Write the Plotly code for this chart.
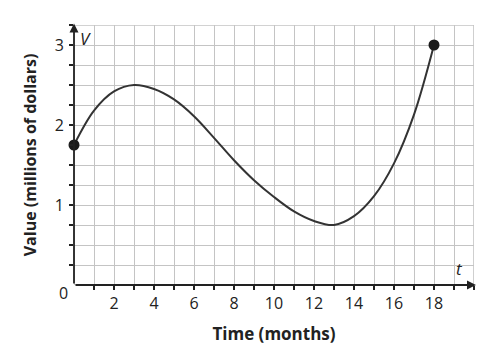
import plotly.graph_objects as go

# Data
t_vals = [0, 1, 2, 3, 4, 5, 6, 7, 8, 9, 10, 11, 12, 13, 14, 15, 16, 17, 18]
v_vals = [1.75, 2.18, 2.42, 2.50, 2.45, 2.32, 2.11, 1.84, 1.56, 1.31, 1.10, 0.92, 0.80, 0.75, 0.86, 1.11, 1.52, 2.13, 3.00]
end_t = [0, 18]
end_v = [1.75, 3.00]
x_ticks = list(range(1, 21))
x_labels = [str(v) if (v % 2 == 0 and v <= 18) else "" for v in x_ticks]
y_ticks = [0.25 * i for i in range(1, 14)]
y_labels = [str(int(v)) if v in (1, 2, 3) else "" for v in y_ticks]

FONT = "Open Sans"
fig = go.Figure()
fig.add_trace(go.Scatter(x=t_vals, y=v_vals, mode="lines", line=dict(shape="spline", smoothing=1.0, color="#333333", width=2),
                         hoverinfo="skip", showlegend=False, cliponaxis=False))
fig.add_trace(go.Scatter(x=end_t, y=end_v, mode="markers", marker=dict(color="#1a1a1a", size=11),
                         showlegend=False, cliponaxis=False))

fig.update_layout(
    width=499, height=360,
    margin=dict(l=74, r=25, t=25, b=75),
    plot_bgcolor="white", paper_bgcolor="white",
    showlegend=False,
    font=dict(family=FONT, color="#222222", size=15),
    xaxis=dict(range=[0, 20], tickmode="array", tickvals=x_ticks, ticktext=x_labels, automargin=False,
               ticks="outside", ticklen=4, tickcolor="#222222", tickwidth=1.5,
               showgrid=True, gridcolor="#c4c4c4", gridwidth=1.4, zeroline=False, showline=False,
               tickfont=dict(size=16), fixedrange=True,
               title=dict(text="<b>Time (months)</b>", font=dict(size=17), standoff=14)),
    yaxis=dict(range=[0, 3.25], tickmode="array", tickvals=y_ticks, ticktext=y_labels, automargin=False,
               ticks="outside", ticklen=4, tickcolor="#222222", tickwidth=1.5,
               showgrid=True, gridcolor="#c4c4c4", gridwidth=1.4, zeroline=False, showline=False,
               tickfont=dict(size=16), ticklabelstandoff=2, fixedrange=True,
               title=dict(text="<b>Value (millions of dollars)</b>", font=dict(size=16), standoff=14)),
)

# grid border
fig.add_shape(type="rect", xref="x", yref="y", x0=0, y0=0, x1=20, y1=3.25,
              line=dict(color="#c4c4c4", width=1.6), layer="below")

# axes with arrows
fig.add_annotation(x=20.1, y=0, ax=0, ay=0, xref="x", yref="y", axref="x", ayref="y",
                   showarrow=True, arrowhead=2, arrowsize=1, arrowwidth=1.8, arrowcolor="#222222", text="")
fig.add_annotation(x=0, y=3.27, ax=0, ay=0, xref="x", yref="y", axref="x", ayref="y",
                   showarrow=True, arrowhead=2, arrowsize=1, arrowwidth=1.8, arrowcolor="#222222", text="")

# labels
fig.add_annotation(x=0, y=0, xref="x", yref="y", text="0", showarrow=False, xanchor="right", yanchor="middle",
                   xshift=-4, yshift=-8, font=dict(size=16))
fig.add_annotation(x=0, y=3.25, xref="x", yref="y", text="<i>V</i>", showarrow=False, xanchor="left", yanchor="top",
                   xshift=4, yshift=0, font=dict(size=17))
fig.add_annotation(x=20, y=0, xref="x", yref="y", text="<i>t</i>", showarrow=False, xanchor="right", yanchor="bottom",
                   xshift=-9, yshift=3, font=dict(size=17))

fig.write_html("out.html", config={"displayModeBar": False},
               post_script="document.body.style.margin='0';")
